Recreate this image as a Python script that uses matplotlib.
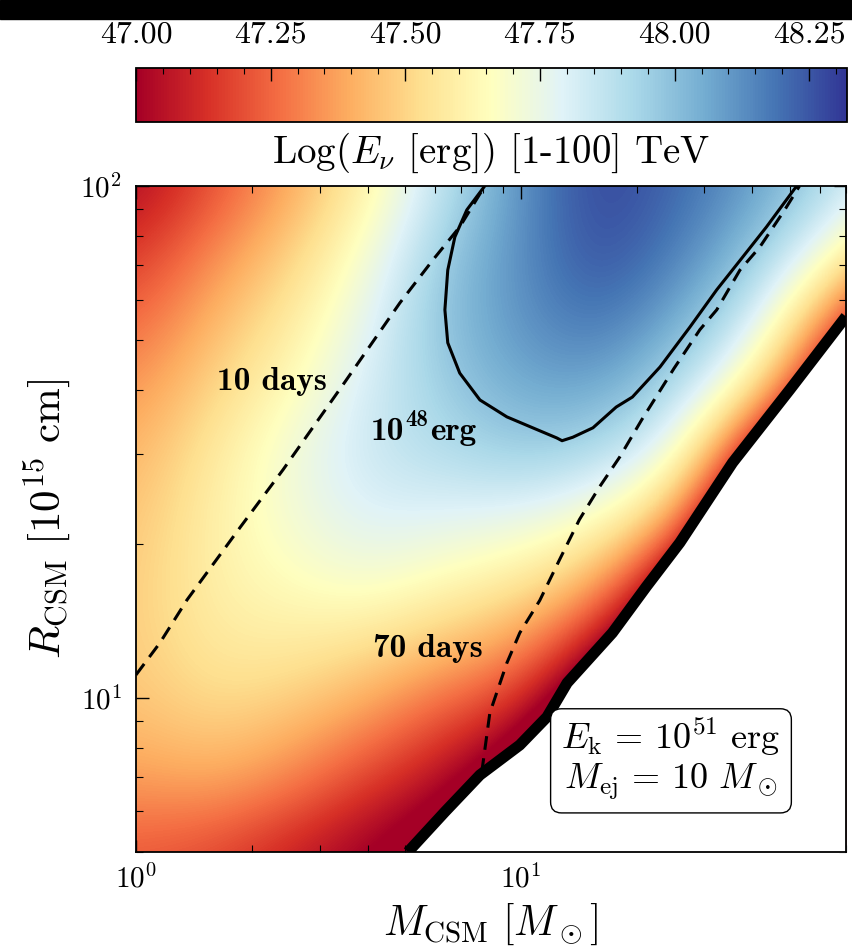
import matplotlib
matplotlib.use("Agg")
import matplotlib.pyplot as plt
import numpy as np
from matplotlib.patches import Rectangle
from matplotlib.colors import Normalize
from matplotlib.cm import ScalarMappable
from matplotlib.ticker import MultipleLocator, FormatStrFormatter

plt.rcParams['mathtext.fontset'] = 'cm'
plt.rcParams['font.family'] = 'serif'
plt.rcParams['font.serif'] = ['cmr10']
plt.rcParams['axes.formatter.use_mathtext'] = True

# grid of the neutrino energy map (log-spaced)
m_grid = [1.0, 1.585, 2.512, 3.981, 6.310, 10.0, 15.85, 25.12, 39.81, 63.10, 100.0]
r_grid = [5.0, 6.76, 9.12, 12.3, 16.6, 22.4, 30.2, 40.7, 55.0, 74.1, 100.0]
# rows from R = 100 (top) down to R = 5 (bottom)
log_e_rows = [
    [47.02, 47.20, 47.38, 47.60, 47.88, 48.12, 48.30, 48.22, 48.10, 47.92, 47.70],
    [47.14, 47.32, 47.48, 47.70, 47.97, 48.13, 48.28, 48.17, 48.00, 47.71, 47.35],
    [47.24, 47.42, 47.57, 47.77, 48.00, 48.12, 48.20, 48.07, 47.85, 47.33, 46.75],
    [47.34, 47.50, 47.64, 47.82, 47.96, 48.07, 48.08, 47.93, 47.62, 46.92, 46.30],
    [47.41, 47.57, 47.72, 47.85, 47.90, 47.96, 47.92, 47.75, 47.06, 46.36, 45.70],
    [47.45, 47.60, 47.71, 47.80, 47.78, 47.76, 47.68, 47.42, 46.55, 45.84, 45.20],
    [47.47, 47.60, 47.65, 47.70, 47.63, 47.56, 47.40, 46.90, 46.05, 45.34, 44.70],
    [47.47, 47.57, 47.57, 47.52, 47.43, 47.33, 47.02, 46.45, 45.55, 44.84, 44.20],
    [47.44, 47.50, 47.45, 47.35, 47.20, 47.08, 46.60, 46.00, 45.05, 44.34, 43.70],
    [47.35, 47.38, 47.30, 47.15, 47.03, 46.78, 46.20, 45.55, 44.60, 43.84, 43.20],
    [47.22, 47.18, 47.08, 46.98, 46.85, 46.50, 45.80, 45.10, 44.20, 43.34, 42.70],
]

# allowed-region boundary (thick line)
edge_m = [5.09, 6.35, 7.83, 9.94, 11.7, 13.2, 17.3, 21.2, 25.9, 35.5, 50.0, 70.0]
edge_r = [5.0, 5.99, 7.07, 8.09, 9.18, 10.7, 13.4, 16.5, 20.1, 28.8, 40.0, 55.6]

# 10 days dashed line
d10_m = [1.0, 1.154, 1.357, 1.862, 2.41, 3.49, 4.85, 5.91, 6.94, 8.06]
d10_r = [11.09, 12.81, 15.54, 21.5, 27.9, 41.4, 59.1, 71.7, 83.2, 100.0]

# 70 days dashed line
d70_m = [7.92, 8.31, 9.20, 9.94, 11.2, 12.6, 14.2, 16.0, 18.1, 20.6, 25.0, 29.2, 32.3, 37.1, 41.8, 48.5, 53.0]
d70_r = [7.17, 9.35, 11.7, 13.4, 15.5, 18.6, 22.3, 25.8, 29.6, 34.9, 44.0, 52.4, 57.3, 68.5, 76.0, 89.8, 100.0]

# 1e48 erg contour
c48_m = [8.06, 7.24, 6.74, 6.46, 6.35, 6.46, 6.94, 7.83, 9.20, 10.74, 12.4, 12.8, 13.65,
         15.4, 17.7, 19.5, 23.0, 27.5, 32.3, 37.7, 43.5, 52.1]
c48_r = [100.0, 89.8, 79.5, 68.5, 57.3, 49.4, 43.1, 38.2, 35.4, 33.7, 32.2, 31.8, 32.3,
         33.7, 37.0, 38.7, 44.3, 53.0, 62.7, 72.6, 83.2, 100.0]

cb_ticks = [47.00, 47.25, 47.50, 47.75, 48.00, 48.25]

log_e = np.array(log_e_rows)[::-1]
vmin, vmax = 47.0, 48.32
cmap = plt.get_cmap('RdYlBu')
norm = Normalize(vmin, vmax)

xmin, xmax, ymin, ymax = 1, 70, 5, 100
pos = [0.1594, 0.1003, 0.8324, 0.7033]

fig = plt.figure(figsize=(8.53, 9.47), dpi=100)
# map drawn in log10 units on a background axes, smoothed by imshow
bg = fig.add_axes(pos, zorder=0)
lx = np.log10(m_grid)
ly = np.log10(r_grid)
hx = (lx[1] - lx[0]) / 2
hy = (ly[1] - ly[0]) / 2
bg.imshow(log_e, origin='lower', extent=[lx[0] - hx, lx[-1] + hx, ly[0] - hy, ly[-1] + hy],
          cmap=cmap, norm=norm, interpolation='bicubic', interpolation_stage='data',
          aspect='auto')
bg.set_xlim(np.log10(xmin), np.log10(xmax))
bg.set_ylim(np.log10(ymin), np.log10(ymax))
bg.axis('off')

ax = fig.add_axes(pos, zorder=1)
ax.patch.set_visible(False)
cax = fig.add_axes([0.1594, 0.8712, 0.8335, 0.057])

ax.set_xscale('log')
ax.set_yscale('log')
ax.fill_between(edge_m, edge_r, 4.0, color='white', zorder=2, lw=0)
ax.plot(edge_m, edge_r, color='black', lw=8, zorder=4, solid_capstyle='butt')
ax.plot(d10_m, d10_r, color='black', lw=2.2, dashes=(4.5, 2.8), zorder=3)
ax.plot(d70_m, d70_r, color='black', lw=2.2, dashes=(4.5, 2.8), zorder=3)
ax.plot(c48_m, c48_r, color='black', lw=2.2, zorder=3)

ax.set_xlim(xmin, xmax)
ax.set_ylim(ymin, ymax)
ax.tick_params(which='both', direction='in', top=True, right=True, labelsize=21)
ax.tick_params(which='major', length=9, width=1.0)
ax.tick_params(which='minor', length=5, width=0.8)
ax.tick_params(axis='x', which='major', pad=9)
ax.tick_params(axis='y', which='major', pad=10)
for s in ax.spines.values():
    s.set_linewidth(1.3)

ax.set_xlabel(r'$M_\mathrm{CSM}\ [M_\odot]$', fontsize=30)
ax.set_ylabel(r'$R_\mathrm{CSM}\ [10^{15}\ \mathrm{cm}]$', fontsize=31)
ax.xaxis.set_label_coords(0.5, -0.075)
ax.yaxis.set_label_coords(-0.09, 0.5)

ax.text(0.1915, 0.707, '10 days', transform=ax.transAxes, fontsize=24,
        family='cmb10', ha='center', va='center', zorder=5)
ax.text(0.411, 0.306, '70 days', transform=ax.transAxes, fontsize=24,
        family='cmb10', ha='center', va='center', zorder=5)
# 10^48 erg, built from bold pieces
ax.annotate('10', xy=(0.331, 0.6186), xycoords='axes fraction', fontsize=24,
            family='cmb10', ha='left', va='baseline', zorder=5)
ax.annotate('48', xy=(0.331, 0.6186), xycoords='axes fraction', xytext=(25.0, 10),
            textcoords='offset points', fontsize=16.5, family='cmb10',
            ha='left', va='baseline', zorder=5)
ax.annotate('erg', xy=(0.331, 0.6186), xycoords='axes fraction', xytext=(42.5, 0),
            textcoords='offset points', fontsize=24, family='cmb10',
            ha='left', va='baseline', zorder=5)

ax.text(0.7535, 0.14,
        '$E_\\mathrm{k}\\,=\\,10^{51}\\ \\mathrm{erg}$\n$M_\\mathrm{ej}\\,=\\,10\\ M_\\odot$',
        transform=ax.transAxes, fontsize=26, ha='center', va='center', zorder=5,
        linespacing=1.15,
        bbox=dict(boxstyle='round,pad=0.3,rounding_size=0.3', fc='white', ec='black', lw=1.0))

cb = fig.colorbar(ScalarMappable(norm=norm, cmap=cmap), cax=cax, orientation='horizontal')
cb.set_ticks(cb_ticks)
cb.ax.xaxis.set_major_formatter(FormatStrFormatter('%.2f'))
cb.ax.xaxis.set_minor_locator(MultipleLocator(0.05))
cb.ax.xaxis.set_ticks_position('top')
cb.ax.tick_params(which='both', direction='in', labelsize=23, top=True, bottom=False)
cb.ax.tick_params(which='major', length=9, width=1.0, pad=14)
cb.ax.tick_params(which='minor', length=4, width=0.8)
cb.outline.set_linewidth(1.3)
cb.ax.xaxis.set_label_position('bottom')
cb.set_label(r'Log($E_\nu$ [erg]) [1-100] TeV', fontsize=28)
cb.ax.xaxis.set_label_coords(0.5, -0.17)
cb.ax.xaxis.label.set_va('top')

fig.add_artist(Rectangle((0, 1 - 19 / 947), 1, 19 / 947, transform=fig.transFigure,
                         color='black', zorder=10))

fig.savefig('out.png', dpi=100)
